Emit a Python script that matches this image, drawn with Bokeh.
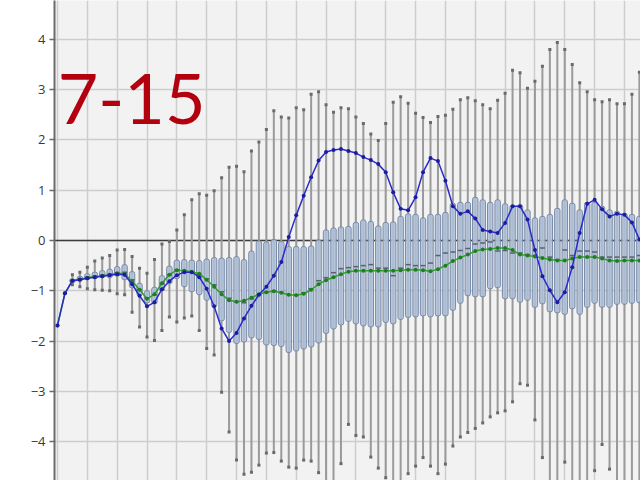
import math
from bokeh.plotting import figure
from bokeh.models import FixedTicker, Label, ColumnDataSource, Span
from bokeh.embed import file_html
from bokeh.resources import INLINE

NaN = math.nan

# index of each time step (4 steps per vertical grid division)
steps = list(range(79))

whisker_hi = [NaN, NaN, -0.68, -0.63, -0.53, -0.41, -0.35, -0.30, -0.19, -0.18,
              -0.32, -0.55, -0.65, -0.38, -0.07, -0.02, 0.21, 0.51, 0.81, 0.93,
              0.90, 0.99, 1.25, 1.46, 1.48, 1.37, 1.78, 1.96, 2.21, 2.58,
              2.46, 2.44, 2.64, 2.60, 2.91, 2.96, 2.70, 2.55, 2.64, 2.62,
              2.46, 2.33, 2.12, 1.99, 2.33, 2.75, 2.86, 2.73, 2.53, 2.45,
              2.35, 2.47, 2.49, 2.61, 2.80, 2.84, 2.78, 2.70, 2.62, 2.79,
              2.93, 3.39, 3.34, 3.03, 3.17, 3.47, 3.80, 3.94, 3.80, 3.50,
              3.14, 2.96, 2.80, 2.76, 2.80, 2.72, 2.72, 2.91, 3.35]

box_hi = [NaN, NaN, -0.76, -0.71, -0.66, -0.63, -0.60, -0.57, -0.52, -0.48,
          -0.62, -0.85, -1.00, -0.93, -0.70, -0.51, -0.39, -0.38, -0.39, -0.40,
          -0.37, -0.34, -0.35, -0.34, -0.32, -0.38, -0.21, -0.01, -0.03, 0.02,
          -0.02, -0.12, -0.12, -0.12, -0.11, 0.01, 0.21, 0.25, 0.27, 0.28,
          0.36, 0.41, 0.38, 0.29, 0.36, 0.37, 0.48, 0.53, 0.52, 0.45,
          0.52, 0.52, 0.56, 0.74, 0.76, 0.76, 0.86, 0.81, 0.76, 0.81,
          0.73, 0.70, 0.71, 0.61, 0.45, 0.48, 0.52, 0.64, 0.81, 0.74,
          0.61, 0.76, 0.76, 0.68, 0.61, 0.58, 0.54, 0.52, 0.48]

median = [NaN, NaN, -0.80, -0.77, -0.73, -0.71, -0.69, -0.67, -0.64, -0.63,
          -0.78, -0.98, -1.14, -1.08, -0.86, -0.68, -0.58, -0.60, -0.63, -0.67,
          -0.76, -0.88, -1.02, -1.15, -1.22, -1.24, -1.16, -1.08, -1.02, -1.00,
          -1.03, -1.08, -1.08, -1.04, -0.96, -0.80, -0.74, -0.64, -0.56, -0.54,
          -0.52, -0.50, -0.48, -0.55, -0.55, -0.70, -0.55, -0.48, -0.50, -0.50,
          -0.45, -0.30, -0.25, -0.23, -0.20, -0.16, -0.07, -0.05, -0.03, -0.21,
          -0.20, -0.25, -0.25, -0.28, -0.30, -0.15, -0.33, -0.38, -0.19, -0.30,
          -0.21, -0.21, -0.23, -0.33, -0.33, -0.33, -0.33, -0.33, -0.30]

box_lo = [NaN, NaN, -0.84, -0.81, -0.78, -0.76, -0.74, -0.74, -0.71, -0.78,
          -0.94, -1.10, -1.24, -1.26, -1.00, -0.86, -0.76, -0.92, -1.02, -1.08,
          -1.19, -1.32, -1.60, -1.83, -2.05, -2.02, -1.94, -1.97, -2.08, -2.09,
          -2.11, -2.23, -2.20, -2.16, -2.12, -2.04, -1.85, -1.76, -1.68, -1.61,
          -1.66, -1.70, -1.72, -1.72, -1.63, -1.66, -1.57, -1.53, -1.52, -1.50,
          -1.52, -1.50, -1.50, -1.39, -1.25, -1.10, -1.12, -1.12, -0.96, -0.94,
          -1.16, -1.16, -1.23, -1.19, -1.33, -1.26, -1.42, -1.44, -1.47, -1.36,
          -1.47, -1.33, -1.25, -1.33, -1.33, -1.27, -1.27, -1.25, -1.24]

whisker_lo = [NaN, NaN, -0.88, -0.92, -0.96, -0.98, -0.99, -1.00, -1.06, -1.08,
              -1.43, -1.72, -1.92, -1.99, -1.79, -1.52, -1.62, -1.54, -1.50, -1.79,
              -2.15, -2.28, -3.02, -3.81, -4.37, -4.65, -4.61, -4.47, -4.23, -4.22,
              -4.39, -4.51, -4.53, -4.37, -4.39, -4.62, -5.00, -5.00, -4.44, -3.66,
              -3.88, -3.91, -4.31, -4.53, -4.72, -5.00, -5.00, -4.64, -4.49, -4.32,
              -4.49, -4.64, -4.45, -4.09, -3.91, -3.82, -3.74, -3.63, -3.51, -3.43,
              -3.39, -3.21, -2.85, -2.88, -3.57, -4.32, -5.00, -5.00, -4.41, -5.00,
              -5.00, -5.00, -4.58, -4.06, -4.55, -5.00, -5.00, -5.00, -5.00]

green_series = [-1.69, -1.05, -0.80, -0.77, -0.74, -0.72, -0.70, -0.68, -0.65, -0.66,
                -0.81, -0.98, -1.16, -1.07, -0.85, -0.68, -0.59, -0.60, -0.62, -0.66,
                -0.78, -0.92, -1.07, -1.19, -1.22, -1.20, -1.14, -1.07, -1.03, -1.01,
                -1.04, -1.08, -1.09, -1.06, -0.98, -0.87, -0.79, -0.73, -0.67, -0.62,
                -0.60, -0.60, -0.60, -0.60, -0.60, -0.60, -0.59, -0.58, -0.58, -0.59,
                -0.61, -0.57, -0.50, -0.41, -0.34, -0.28, -0.21, -0.18, -0.17, -0.15,
                -0.15, -0.19, -0.28, -0.30, -0.32, -0.35, -0.38, -0.40, -0.40, -0.36,
                -0.33, -0.33, -0.33, -0.36, -0.40, -0.41, -0.40, -0.40, -0.40]

blue_series = [-1.69, -1.05, -0.80, -0.78, -0.75, -0.73, -0.71, -0.69, -0.67, -0.68,
               -0.87, -1.10, -1.31, -1.23, -0.97, -0.81, -0.69, -0.63, -0.63, -0.73,
               -0.96, -1.31, -1.75, -2.00, -1.84, -1.55, -1.30, -1.08, -0.92, -0.70,
               -0.43, 0.07, 0.50, 0.89, 1.26, 1.59, 1.76, 1.80, 1.82, 1.78,
               1.74, 1.66, 1.60, 1.52, 1.36, 0.96, 0.63, 0.60, 0.86, 1.36,
               1.64, 1.58, 1.19, 0.68, 0.53, 0.58, 0.44, 0.21, 0.18, 0.15,
               0.35, 0.68, 0.68, 0.42, -0.19, -0.71, -0.99, -1.23, -1.03, -0.53,
               0.15, 0.73, 0.81, 0.62, 0.48, 0.53, 0.51, 0.36, 0.02]

y_ticks = [-4, -3, -2, -1, 0, 1, 2, 3, 4]
x_grid_steps = list(range(0, 80, 4))
title_text = "Feb 7-15"

src = ColumnDataSource(dict(x=steps, wh=whisker_hi, q3=box_hi, med=median,
                            q1=box_lo, wl=whisker_lo))

p = figure(width=640, height=480, output_backend="svg", toolbar_location=None,
           x_range=(-0.40, 78.15), y_range=(-4.776, 4.776),
           x_axis_location=None,
           min_border_left=54, min_border_right=0, min_border_top=0, min_border_bottom=0,
           background_fill_color="#f2f2f2", border_fill_color="white",
           outline_line_color=None)

p.xgrid.ticker = FixedTicker(ticks=x_grid_steps)
p.ygrid.ticker = FixedTicker(ticks=y_ticks)
p.yaxis.ticker = FixedTicker(ticks=y_ticks)
for g in (p.xgrid, p.ygrid):
    g.grid_line_color = "#cdcdcd"
    g.grid_line_width = 1.5

ax = p.yaxis[0]
ax.axis_line_color = "#6a6a6a"
ax.axis_line_width = 2
ax.major_tick_out = 5
ax.major_tick_in = 0
ax.major_tick_line_color = "#6a6a6a"
ax.major_tick_line_width = 1.5
ax.minor_tick_line_color = None
ax.major_label_standoff = 4
ax.major_label_text_font = "Open Sans"
ax.major_label_text_font_size = "13px"
ax.major_label_text_color = "#3a3a3a"

zero = Span(location=0, dimension="width", line_color="#3c3c3c", line_width=1.5,
            level="underlay")
p.add_layout(zero)

# whiskers
p.segment(x0="x", y0="wl", x1="x", y1="wh", source=src,
          line_color="#9a9a9a", line_width=2)
p.scatter(x="x", y="wh", source=src, marker="square", size=3,
          fill_color="#6a6a6a", line_color=None)
p.scatter(x="x", y="wl", source=src, marker="square", size=3,
          fill_color="#6a6a6a", line_color=None)

# boxes
p.vbar(x="x", width=0.72, top="q3", bottom="q1", source=src,
       fill_color="#aec2dc", fill_alpha=0.85, line_color="#7a8aa4", line_width=1,
       border_radius=2)
p.scatter(x="x", y="med", source=src, marker="dash", size=5,
          line_color="#5a6070", line_width=1.5)

# lines
p.line(steps, green_series, line_color="#2f9f2f", line_width=1.5)
p.scatter(steps, green_series, marker="circle", size=4,
          fill_color="#1f7f1f", line_color=None)
p.line(steps, blue_series, line_color="#2b2bcc", line_width=1.5)
p.scatter(steps, blue_series, marker="circle", size=4,
          fill_color="#1c1c9e", line_color=None)

lbl = Label(x=19.84, y=2.846, text=title_text, text_font="Lato",
            text_font_size="70px", text_color="#b3000f",
            text_align="right", text_baseline="alphabetic")
p.add_layout(lbl)

open("out.html", "w").write(file_html(p, INLINE))
